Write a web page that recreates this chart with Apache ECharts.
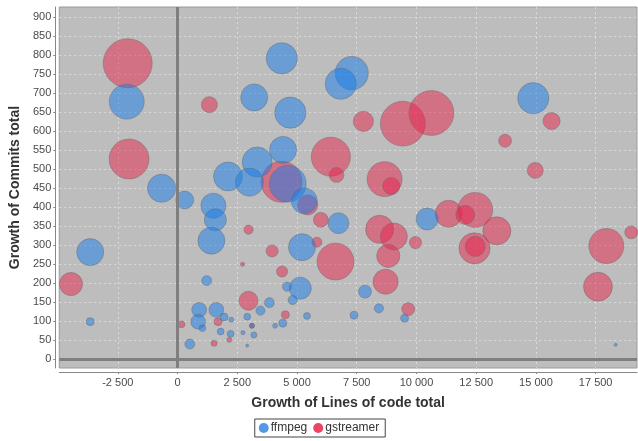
<!DOCTYPE html>
<html>
<head>
<meta charset="utf-8">
<script src="https://cdn.jsdelivr.net/npm/echarts@6/dist/echarts.min.js"></script>
<style>
  html, body { margin: 0; padding: 0; background: #ffffff; }
  #chart { width: 638px; height: 441px; }
</style>
</head>
<body>
<div id="chart"></div>
<script>
// Growth of lines of code vs. growth of commits, bubble = contributor weight
const seriesNames = ['ffmpeg', 'gstreamer'];

// [growth of lines of code, growth of commits, bubble size (commit units)]
const ffmpegPoints = [
  [-2125, 677, 92], [-667, 449, 74], [3209, 688, 71], [304, 418, 47],
  [4363, 791, 82], [7292, 752, 87], [6834, 724, 82], [4721, 648, 82],
  [4417, 550, 71], [3334, 518, 79], [4613, 461, 97], [2113, 480, 76],
  [3013, 465, 74], [1500, 403, 66], [1583, 366, 58], [1417, 311, 71],
  [-3654, 281, 71], [-3654, 98, 21], [1221, 206, 26], [4584, 190, 24],
  [5138, 186, 58], [3846, 148, 26], [4821, 155, 24], [3471, 127, 24],
  [904, 129, 39], [1625, 129, 39], [863, 98, 39], [1042, 81, 18],
  [1946, 110, 21], [2250, 103, 13], [2917, 111, 18], [4405, 94, 21],
  [4084, 87, 13], [3113, 87, 13], [1804, 72, 18], [2221, 66, 18],
  [2738, 69, 11], [3196, 63, 16], [513, 39, 26], [2917, 35, 8],
  [5305, 416, 68], [6738, 357, 55], [5209, 294, 71], [5417, 113, 18],
  [7388, 115, 21], [7846, 177, 34], [8430, 133, 24], [9501, 107, 21],
  [10447, 368, 58], [14889, 686, 82], [18335, 37, 8]
];

const gstreamerPoints = [
  [-2084, 778, 129], [1333, 669, 42], [-2029, 526, 105], [7780, 625, 53],
  [9430, 619, 118], [10626, 647, 118], [6417, 532, 103], [6655, 484, 39],
  [8667, 473, 92], [8947, 455, 45], [4355, 466, 108], [-4459, 197, 61],
  [2971, 340, 24], [2721, 249, 11], [3959, 284, 32], [4375, 230, 29],
  [2971, 153, 50], [1696, 98, 21], [4513, 116, 21], [167, 91, 18],
  [1529, 41, 16], [2167, 50, 13], [5446, 405, 53], [6000, 366, 39],
  [5834, 307, 26], [6613, 256, 97], [8459, 341, 74], [9055, 322, 71],
  [8821, 271, 61], [8709, 203, 66], [9959, 306, 32], [9655, 131, 34],
  [11347, 382, 71], [12459, 392, 92], [12042, 379, 50], [13364, 337, 74],
  [12430, 291, 82], [12459, 296, 53], [17947, 297, 92], [18989, 333, 34],
  [17597, 190, 76], [15655, 626, 45], [13709, 574, 34], [14972, 496, 42],
  [3113, 87, 13]
];

// Axis ranges and tick labels
const xRange = [-4950, 19230];
const yRange = [-24, 926];
const xTicks = [-2500, 0, 2500, 5000, 7500, 10000, 12500, 15000, 17500];
const yTicks = [0, 50, 100, 150, 200, 250, 300, 350, 400, 450, 500, 550, 600, 650, 700, 750, 800, 850, 900];

const W = 638, H = 441;
const gridBox = { left: 57, right: 1, top: 7, bottom: 73 };
const plotHeight = H - gridBox.top - gridBox.bottom;
// bubble diameters are expressed in commit units, scaled like the range axis
const pxPerCommit = plotHeight / (yRange[1] - yRange[0]);

function spaced(v) {
  const s = Math.abs(v).toString().replace(/\B(?=(\d{3})+(?!\d))/g, ' ');
  return (v < 0 ? '-' : '') + s;
}

const tickFont = { fontFamily: 'Liberation Sans', fontSize: 11, color: '#4a4a4a' };
const titleFont = { fontFamily: 'Liberation Sans', fontSize: 14, fontWeight: 'bold', color: '#333333' };
const gridLine = { show: true, lineStyle: { color: 'rgba(255,255,255,0.45)', type: [2, 3], width: 1 } };

const chart = echarts.init(document.getElementById('chart'), null, { renderer: 'canvas' });

chart.setOption({
  animation: false,
  backgroundColor: '#ffffff',
  grid: {
    left: gridBox.left, right: gridBox.right, top: gridBox.top, bottom: gridBox.bottom,
    show: true, backgroundColor: '#bdbdbd', borderColor: '#9a9a9a', borderWidth: 1
  },
  legend: {
    bottom: 4, left: 'center',
    orient: 'horizontal',
    borderColor: '#444', borderWidth: 1, borderRadius: 0,
    padding: [3, 6, 3, 4],
    itemGap: 6, itemWidth: 10, itemHeight: 10,
    icon: 'circle',
    textStyle: { fontFamily: 'Liberation Sans', fontSize: 12, color: '#333', padding: [0, 0, 0, -3] },
    data: [
      { name: 'ffmpeg', itemStyle: { color: '#2a7ee3', borderWidth: 0 } },
      { name: 'gstreamer', itemStyle: { color: '#e6163f', borderWidth: 0 } }
    ]
  },
  xAxis: {
    type: 'value', min: xRange[0], max: xRange[1], offset: 4,
    name: 'Growth of Lines of code total', nameLocation: 'middle', nameGap: 24,
    nameTextStyle: titleFont,
    axisLine: { show: true, onZero: false, lineStyle: { color: '#888', width: 1 } },
    axisTick: { show: true, length: 2, customValues: xTicks, lineStyle: { color: '#888' } },
    axisLabel: Object.assign({ customValues: xTicks, margin: 5, formatter: spaced }, tickFont),
    splitLine: gridLine
  },
  yAxis: {
    type: 'value', min: yRange[0], max: yRange[1], offset: 4,
    name: 'Growth of Commits total', nameLocation: 'middle', nameGap: 26,
    nameTextStyle: titleFont,
    axisLine: { show: true, onZero: false, lineStyle: { color: '#888', width: 1 } },
    axisTick: { show: true, length: 2, customValues: yTicks, lineStyle: { color: '#888' } },
    axisLabel: Object.assign({ customValues: yTicks, margin: 4 }, tickFont),
    splitLine: gridLine
  },
  series: [
    {
      // drawn first so ffmpeg bubbles sit on top
      name: 'gstreamer', type: 'scatter', clip: true,
      data: gstreamerPoints,
      symbolSize: d => d[2] * pxPerCommit,
      itemStyle: { color: 'rgba(232,34,74,0.62)', borderColor: 'rgba(105,105,105,0.55)', borderWidth: 1 },
      emphasis: { disabled: true },
      markLine: {
        silent: true, symbol: 'none', animation: false, label: { show: false },
        lineStyle: { color: '#7f7f7f', width: 3, type: 'solid' },
        data: [{ xAxis: 0 }, { yAxis: 0 }]
      },
      z: 2
    },
    {
      name: 'ffmpeg', type: 'scatter', clip: true,
      data: ffmpegPoints,
      symbolSize: d => d[2] * pxPerCommit,
      itemStyle: { color: 'rgba(22,126,234,0.62)', borderColor: 'rgba(105,105,105,0.55)', borderWidth: 1 },
      emphasis: { disabled: true },
      z: 3
    }
  ]
});
</script>
</body>
</html>
